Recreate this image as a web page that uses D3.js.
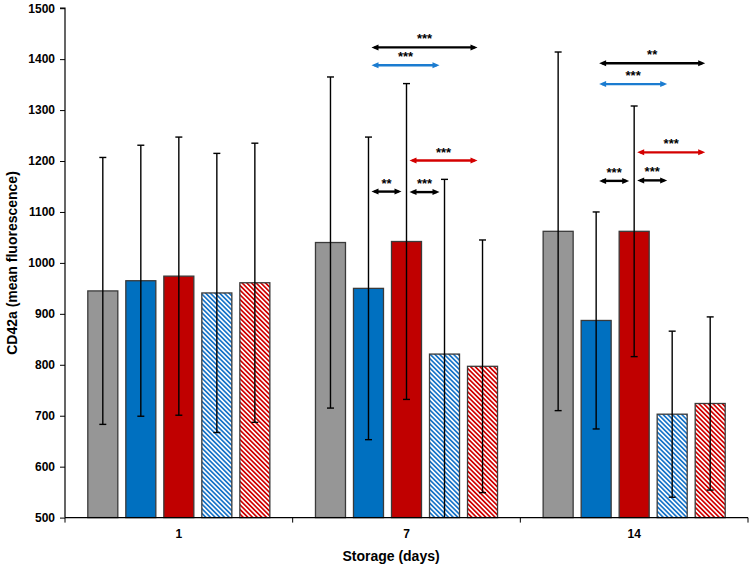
<!DOCTYPE html>
<html>
<head>
<meta charset="utf-8">
<script src="https://cdn.jsdelivr.net/npm/d3@7"></script>
<style>
  html, body { margin: 0; padding: 0; background: #fff; }
  svg { display: block; font-family: Arial, "Liberation Sans", sans-serif; }
</style>
</head>
<body>
<svg id="chart" width="751" height="568"></svg>
<script>
// ---- data ----
const days = ["1", "7", "14"];
const seriesNames = ["grey", "blue", "red", "blueHatched", "redHatched"];
const meanGrey        = [945, 1040, 1062];
const meanBlue        = [965, 950, 887];
const meanRed         = [974, 1042, 1062];
const meanBlueHatched = [941, 821, 703];
const meanRedHatched  = [961, 797, 724];
const sdGrey          = [262, 325, 352];
const sdBlue          = [266, 297, 213];
const sdRed           = [273, 310, 246];
const sdBlueHatched   = [274, 343, 163];
const sdRedHatched    = [274, 248, 170];
const yTicks = [500, 600, 700, 800, 900, 1000, 1100, 1200, 1300, 1400, 1500];

// significance annotations
const sigDay   = ["7", "7", "7", "7", "7", "14", "14", "14", "14", "14"];
const sigFrom  = [1, 1, 2, 1, 2, 1, 1, 2, 1, 2];
const sigTo    = [4, 3, 4, 2, 3, 4, 3, 4, 2, 3];
const sigY     = [1423, 1388, 1201, 1140, 1139, 1392, 1351, 1217, 1161, 1162];
const sigLabel = ["***", "***", "***", "**", "***", "**", "***", "***", "***", "***"];
const sigKind  = ["black", "blue", "red", "black", "black", "black", "blue", "red", "black", "black"];

// ---- styles ----
const fillCol = { grey: "#969696", blue: "#0070C0", red: "#C00000" };
const arrowCol = { black: "#000000", blue: "#1B7CD0", red: "#D40000" };

const means = [meanGrey, meanBlue, meanRed, meanBlueHatched, meanRedHatched];
const sds = [sdGrey, sdBlue, sdRed, sdBlueHatched, sdRedHatched];

const svg = d3.select("#chart");
const L = 65, R = 748, T = 8.2, B = 517.6;

const x = d3.scaleBand().domain(days).range([L, R]).padding(0);
const xs = d3.scaleBand().domain(d3.range(seriesNames.length))
  .range([0, x.bandwidth()]).paddingInner(8 / 38).paddingOuter(0.6);
const y = d3.scaleLinear().domain([500, 1500]).range([B, T]);

// patterns
const defs = svg.append("defs");
function hatch(id, color) {
  const p = defs.append("pattern").attr("id", id)
    .attr("patternUnits", "userSpaceOnUse")
    .attr("width", 3.3).attr("height", 10)
    .attr("patternTransform", "rotate(-45)");
  p.append("rect").attr("width", 3.3).attr("height", 10).attr("fill", "#fff");
  p.append("rect").attr("x", 0).attr("width", 1.7).attr("height", 10).attr("fill", color);
}
hatch("hBlue", "#1874C8");
hatch("hRed", "#D00000");
defs.append("clipPath").attr("id", "plotClip")
  .append("rect").attr("x", L).attr("y", 0).attr("width", R - L).attr("height", B);

const fills = [fillCol.grey, fillCol.blue, fillCol.red, "url(#hBlue)", "url(#hRed)"];

// flatten
const bars = [];
days.forEach((d, di) => {
  seriesNames.forEach((s, si) => {
    bars.push({ day: d, s: si, mean: means[si][di], sd: sds[si][di] });
  });
});

const g = svg.append("g");
g.selectAll("rect.bar").data(bars).join("rect")
  .attr("class", "bar")
  .attr("x", d => x(d.day) + xs(d.s))
  .attr("y", d => y(d.mean))
  .attr("width", xs.bandwidth())
  .attr("height", d => y(500) - y(d.mean))
  .attr("fill", d => fills[d.s])
  .attr("stroke", "#3a3a3a")
  .attr("stroke-width", 1.3);

// error bars
const eg = svg.append("g").attr("clip-path", "url(#plotClip)")
  .attr("stroke", "#000").attr("stroke-width", 1.4);
bars.forEach(d => {
  const cx = x(d.day) + xs(d.s) + xs.bandwidth() / 2;
  const hi = y(d.mean + d.sd), lo = y(d.mean - d.sd);
  eg.append("line").attr("x1", cx).attr("x2", cx).attr("y1", hi).attr("y2", lo);
  eg.append("line").attr("x1", cx - 3.5).attr("x2", cx + 3.5).attr("y1", hi).attr("y2", hi);
  eg.append("line").attr("x1", cx - 3.5).attr("x2", cx + 3.5).attr("y1", lo).attr("y2", lo);
});

// axes
const yAxis = d3.axisLeft(y).tickValues(yTicks).tickSize(5).tickPadding(5).tickFormat(d3.format("d"));
const ya = svg.append("g").attr("transform", `translate(${L},0)`).call(yAxis);
ya.select(".domain").attr("stroke", "#000").attr("stroke-width", 1.2).attr("d", `M-5,${T}H0V${B}`);
ya.selectAll(".tick line").attr("stroke", "#000");
ya.selectAll("text").attr("font-size", 12).attr("font-weight", "bold").attr("fill", "#000")
  .attr("font-family", "Arial, 'Liberation Sans', sans-serif");

const xa = svg.append("g").attr("transform", `translate(0,${B})`);
xa.append("line").attr("x1", L).attr("x2", R).attr("y1", 0).attr("y2", 0)
  .attr("stroke", "#000").attr("stroke-width", 1.2);
[L, ...days.map(d => x(d) + x.bandwidth())].forEach(v => {
  xa.append("line").attr("x1", v).attr("x2", v).attr("y1", 0).attr("y2", 5)
    .attr("stroke", "#000").attr("stroke-width", 1);
});
xa.selectAll("text.xl").data(days).join("text")
  .attr("class", "xl")
  .attr("x", d => x(d) + x.bandwidth() / 2)
  .attr("y", 20)
  .attr("text-anchor", "middle")
  .attr("font-size", 12).attr("font-weight", "bold")
  .text(d => d);

// titles
svg.append("text").attr("x", 391).attr("y", 561)
  .attr("text-anchor", "middle").attr("font-size", 14).attr("font-weight", "bold")
  .text("Storage (days)");
svg.append("text").attr("transform", `translate(17,263) rotate(-90)`)
  .attr("text-anchor", "middle").attr("font-size", 14).attr("font-weight", "bold")
  .text("CD42a (mean fluorescence)");

// significance arrows
const ag = svg.append("g");
sigDay.forEach((d, i) => {
  const col = arrowCol[sigKind[i]];
  const x1 = x(d) + xs(sigFrom[i]) + xs.bandwidth() / 2 + 3;
  const x2 = x(d) + xs(sigTo[i]) + xs.bandwidth() / 2 - 5;
  const yy = y(sigY[i]);
  const hl = 7, hh = 3;
  ag.append("line").attr("x1", x1 + 3).attr("x2", x2 - 3).attr("y1", yy).attr("y2", yy)
    .attr("stroke", col).attr("stroke-width", 2.4);
  ag.append("path").attr("d", `M${x1},${yy}L${x1 + hl},${yy - hh}L${x1 + hl},${yy + hh}Z`).attr("fill", col);
  ag.append("path").attr("d", `M${x2},${yy}L${x2 - hl},${yy - hh}L${x2 - hl},${yy + hh}Z`).attr("fill", col);
  ag.append("text").attr("x", (x1 + x2) / 2).attr("y", yy - 4)
    .attr("text-anchor", "middle").attr("font-size", 13).attr("font-weight", "bold")
    .attr("fill", "#000").text(sigLabel[i]);
});
</script>
</body>
</html>
